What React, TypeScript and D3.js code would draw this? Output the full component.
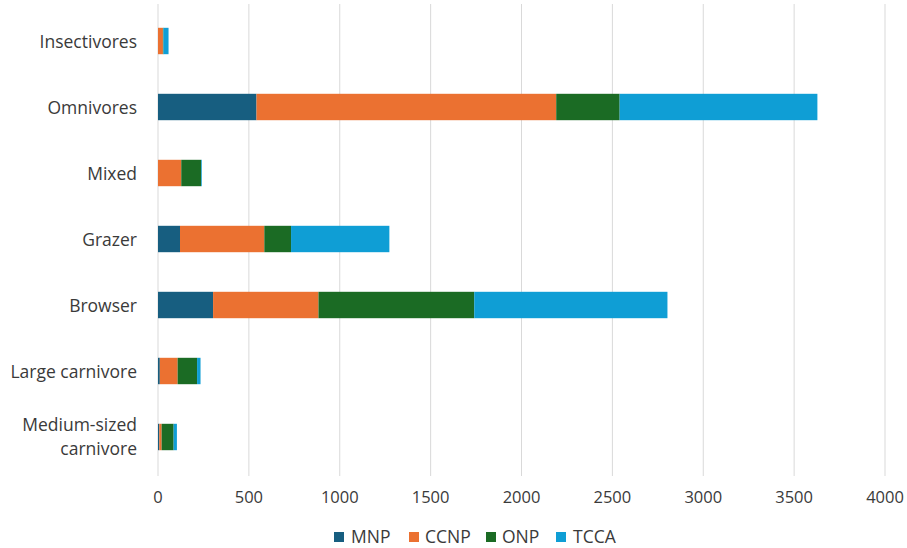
import React from "react";
import * as d3 from "d3";

const categories = [
  "Insectivores",
  "Omnivores",
  "Mixed",
  "Grazer",
  "Browser",
  "Large carnivore",
  "Medium-sized carnivore",
];
const seriesNames = ["MNP", "CCNP", "ONP", "TCCA"];
const MNP = [0, 542, 0, 121, 303, 10, 7];
const CCNP = [27, 1649, 128, 464, 580, 98, 13];
const ONP = [3, 349, 109, 147, 857, 107, 66];
const TCCA = [28, 1088, 4, 541, 1063, 19, 18];
const xTicks = [0, 500, 1000, 1500, 2000, 2500, 3000, 3500, 4000];
const colors = ["#175e80", "#eb7131", "#1b6b24", "#0f9ed5"];

const W = 907;
const H = 548;
const left = 158;
const right = 885;
const top = 8;
const bottom = 470;
const font = "'Open Sans', sans-serif";
const textColor = "#3a3a3a";
const fs = 17.5;
const tfs = 16.5;

export default function App() {
  const values = [MNP, CCNP, ONP, TCCA];
  const rows = categories.map((c, i) => {
    const r: any = { cat: c };
    seriesNames.forEach((s, k) => (r[s] = values[k][i]));
    return r;
  });
  const stacked = d3.stack().keys(seriesNames)(rows);
  const x = d3.scaleLinear().domain([0, 4000]).range([left, right]);
  const y = d3
    .scaleBand()
    .domain(categories)
    .range([top, bottom])
    .paddingInner(0.6)
    .paddingOuter(0.3);

  const legendItems = [
    { name: "MNP", sx: 334, tx: 351 },
    { name: "CCNP", sx: 409, tx: 425 },
    { name: "ONP", sx: 486, tx: 502 },
    { name: "TCCA", sx: 556, tx: 573 },
  ];

  const lx = 137;
  const catLabel = (c: string) => {
    const cy = (y(c) as number) + y.bandwidth() / 2;
    if (c === "Medium-sized carnivore") {
      return (
        <text key={c} x={lx} y={cy} textAnchor="end" fontSize={fs} fill={textColor} fontFamily={font}>
          <tspan x={lx} dy={-6}>Medium-sized</tspan>
          <tspan x={lx} dy={24}>carnivore</tspan>
        </text>
      );
    }
    return (
      <text key={c} x={lx} y={cy + 6.5} textAnchor="end" fontSize={fs} fill={textColor} fontFamily={font}>
        {c}
      </text>
    );
  };

  return (
    <svg
      width={W}
      height={H}
      style={{ position: "absolute", left: 0, top: 0, background: "#fff" }}
    >
      <rect width={W} height={H} fill="#fff" />
      {xTicks.map((t) => (
        <line key={t} x1={x(t)} x2={x(t)} y1={top - 4} y2={bottom + 6} stroke="#d9d9d9" strokeWidth={1} />
      ))}
      {stacked.map((layer, k) => (
        <g key={layer.key} fill={colors[k]}>
          {layer.map((d, i) => {
            const w = x(d[1]) - x(d[0]);
            if (w <= 0) return null;
            return (
              <rect
                key={i}
                x={x(d[0])}
                y={y(categories[i]) as number}
                width={w}
                height={y.bandwidth()}
              />
            );
          })}
        </g>
      ))}
      {xTicks.map((t) => (
        <text key={t} x={x(t)} y={503} textAnchor="middle" fontSize={tfs} fill={textColor} fontFamily={font}>
          {t}
        </text>
      ))}
      {categories.map(catLabel)}
      {legendItems.map((l, k) => (
        <g key={l.name}>
          <rect x={l.sx} y={532} width={10} height={10} fill={colors[k]} />
          <text x={l.tx} y={543} fontSize={fs} fill={textColor} fontFamily={font}>
            {l.name}
          </text>
        </g>
      ))}
    </svg>
  );
}
